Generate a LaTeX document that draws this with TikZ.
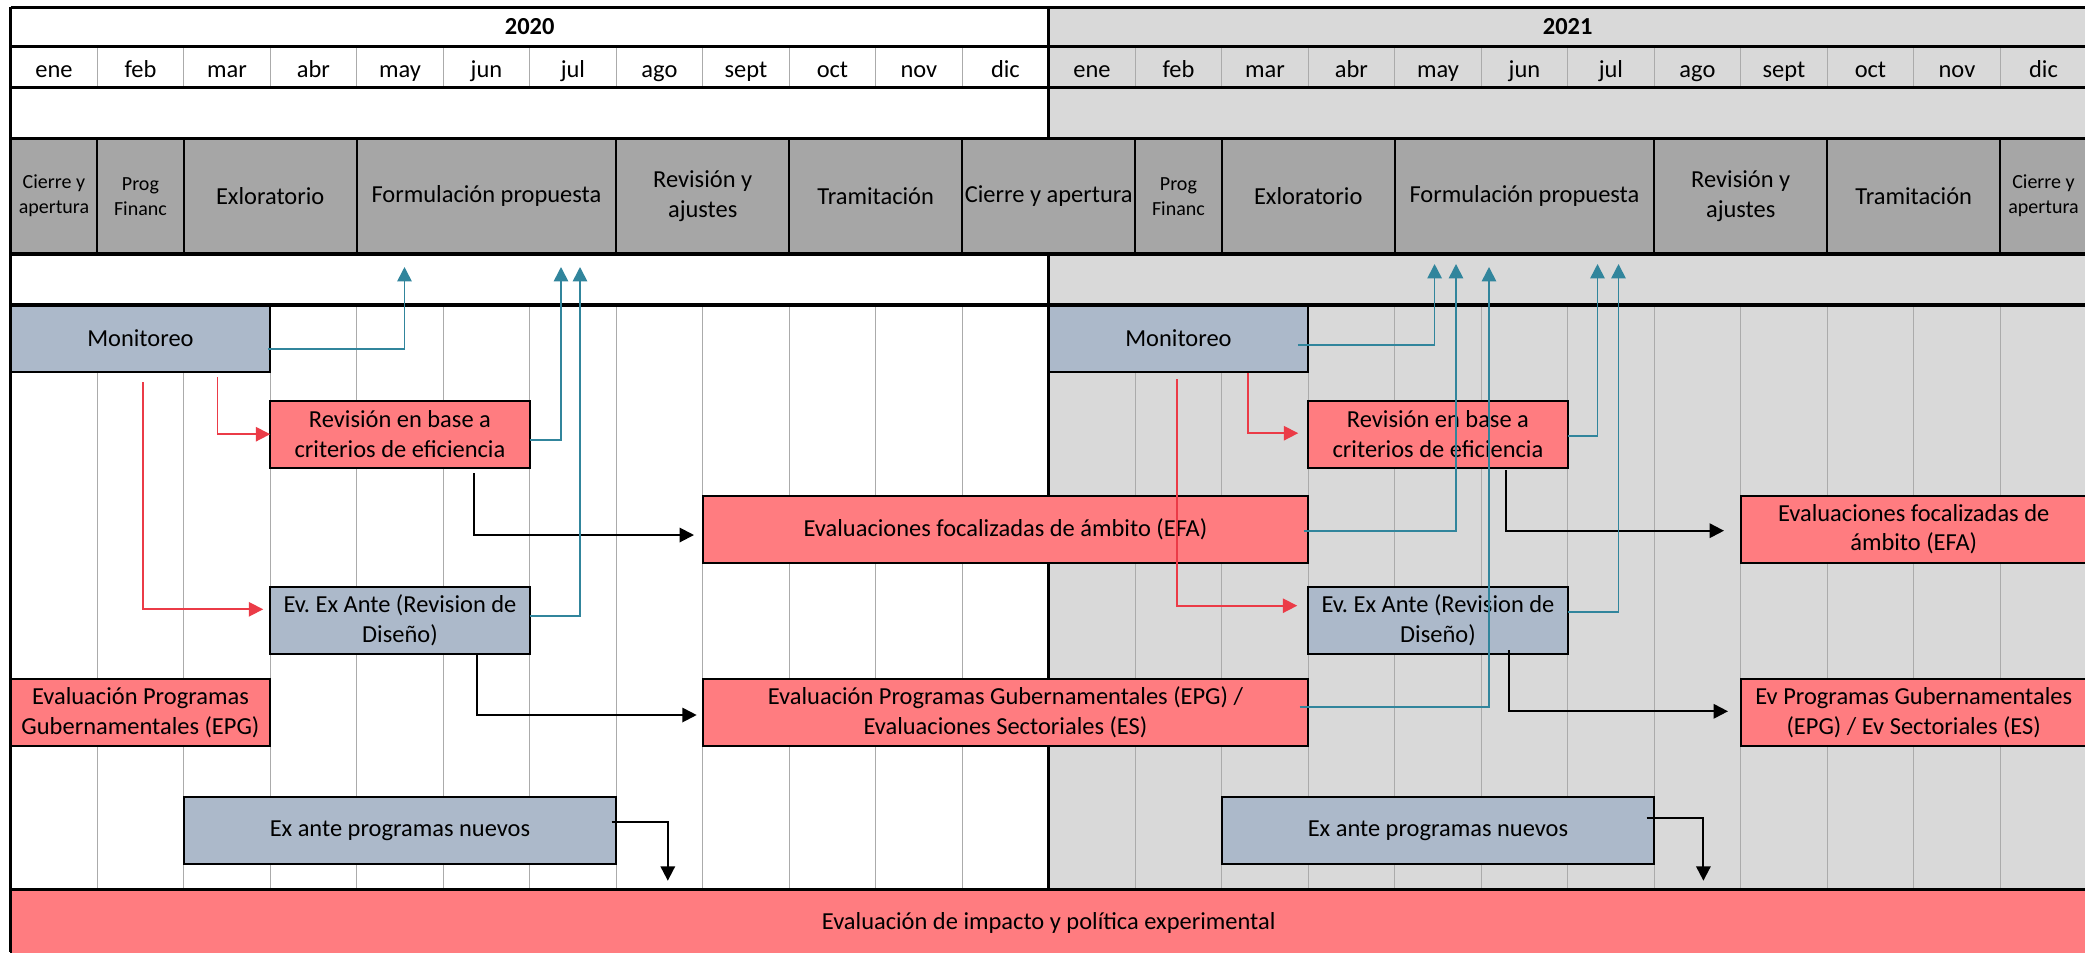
\documentclass[tikz,border=0pt]{standalone}
\usepackage{fontspec}
\setmainfont{Carlito}
\usetikzlibrary{arrows.meta, positioning}
\frenchspacing

\definecolor{evred}{HTML}{FF7C80}
\definecolor{evblue}{HTML}{ACB9CA}
\definecolor{phasegray}{HTML}{A6A6A6}
\definecolor{yeargray}{HTML}{D9D9D9}
\definecolor{gridgray}{HTML}{ABABAB}
\definecolor{linkteal}{HTML}{31859C}
\definecolor{linkred}{HTML}{EB3B47}

% column width and left edge (in px units)
\newcommand{\cw}{86.5}
\newcommand{\lx}{10.7}

\begin{document}
\begin{tikzpicture}[x=0.45pt, y=-0.45pt,
        font=\fontsize{11}{13.4}\selectfont,
        box/.style={draw, rectangle, line width=0.8pt, inner sep=0pt, outer sep=0pt, anchor=north west, align=center, minimum height=30.15pt},
        cols/.style={minimum width={#1*\cw*0.45pt}},
        redbox/.style={box, fill=evred},
        bluebox/.style={box, fill=evblue},
        phase/.style={box, fill=phasegray, minimum height=52.07pt},
        small/.style={font=\fontsize{9}{11.25}\selectfont},
        rule/.style={line width=1.4pt},
        gridline/.style={gridgray, line width=0.6pt},
        arrow/.style={-{Triangle[length=6.5pt, width=6.5pt]}, line width=0.75pt}
    ]
    \useasboundingbox (0,0) rectangle (2085,952);
    \clip (0,0) rectangle (2085,952);
    \fill[white] (0,0) rectangle (2085,952);
    \fill[yeargray] ({\lx+12*\cw},7.3) rectangle (2090,889.7);

    % header
    \node[font=\bfseries\fontsize{11}{13.4}\selectfont, anchor=base] (y2020) at ({\lx+6*\cw},34.5) {2020};
    \node[font=\bfseries\fontsize{11}{13.4}\selectfont, anchor=base] (y2021) at ({\lx+18*\cw},34.5) {2021};
    \foreach \m [count=\i from 0] in {ene,feb,mar,abr,may,jun,jul,ago,sept,oct,nov,dic,ene,feb,mar,abr,may,jun,jul,ago,sept,oct,nov,dic}
        \node[anchor=base] (m\i) at ({\lx+(\i+0.5)*\cw},77) {\m};

    % grid
    \foreach \i in {1,...,11,13,14,...,23} {
        \draw[gridline] ({\lx+\i*\cw},46.7) -- ({\lx+\i*\cw},87.7);
        \draw[gridline] ({\lx+\i*\cw},305) -- ({\lx+\i*\cw},889.7);
    }

    % phases
    \node[phase, cols=1, small] (ph1) at ({\lx+0*\cw},138.3) {Cierre y\\apertura};
    \node[phase, cols=1, small] (ph2) at ({\lx+1*\cw},138.3) {Prog\\Financ};
    \node[phase, cols=2] (ph3) at ({\lx+2*\cw},138.3) {Exloratorio};
    \node[phase, cols=3] (ph4) at ({\lx+4*\cw},138.3) {Formulación propuesta};
    \node[phase, cols=2] (ph5) at ({\lx+7*\cw},138.3) {Revisión y\\ajustes};
    \node[phase, cols=2] (ph6) at ({\lx+9*\cw},138.3) {Tramitación};
    \node[phase, cols=2] (ph7) at ({\lx+11*\cw},138.3) {Cierre y apertura};
    \node[phase, cols=1, small] (ph8) at ({\lx+13*\cw},138.3) {Prog\\Financ};
    \node[phase, cols=2] (ph9) at ({\lx+14*\cw},138.3) {Exloratorio};
    \node[phase, cols=3] (ph10) at ({\lx+16*\cw},138.3) {Formulación propuesta};
    \node[phase, cols=2] (ph11) at ({\lx+19*\cw},138.3) {Revisión y\\ajustes};
    \node[phase, cols=2] (ph12) at ({\lx+21*\cw},138.3) {Tramitación};
    \node[phase, cols=1, small] (ph13) at ({\lx+23*\cw},138.3) {Cierre y\\apertura};

    % 2020
    \node[bluebox, cols=3] (mon20) at ({\lx+0*\cw},305) {Monitoreo};
    \node[redbox, cols=3] (rev20) at ({\lx+3*\cw},400.7) {Revisión en base a\\criterios de eficiencia};
    \node[redbox, cols=7] (efa20) at ({\lx+8*\cw},495.7) {Evaluaciones focalizadas de ámbito (EFA)};
    \node[bluebox, cols=3] (exa20) at ({\lx+3*\cw},587) {Ev. Ex Ante (Revision de\\Diseño)};
    \node[redbox, cols=3] (epg20a) at ({\lx+0*\cw},679) {Evaluación Programas\\Gubernamentales (EPG)};
    \node[redbox, cols=7] (epg20) at ({\lx+8*\cw},679) {Evaluación Programas Gubernamentales (EPG) /\\Evaluaciones Sectoriales (ES)};
    \node[bluebox, cols=5] (new20) at ({\lx+2*\cw},797) {Ex ante programas nuevos};

    % 2021
    \node[bluebox, cols=3] (mon21) at ({\lx+12*\cw},305) {Monitoreo};
    \node[redbox, cols=3] (rev21) at ({\lx+15*\cw},400.7) {Revisión en base a\\criterios de eficiencia};
    \node[redbox, cols=4] (efa21) at ({\lx+20*\cw},495.7) {Evaluaciones focalizadas de\\ámbito (EFA)};
    \node[bluebox, cols=3] (exa21) at ({\lx+15*\cw},587) {Ev. Ex Ante (Revision de\\Diseño)};
    \node[redbox, cols=4] (epg21) at ({\lx+20*\cw},679) {Ev Programas Gubernamentales\\(EPG) / Ev Sectoriales (ES)};
    \node[bluebox, cols=5] (new21) at ({\lx+14*\cw},797) {Ex ante programas nuevos};

    \node[redbox, cols=24] (impact) at ({\lx},889.7) {Evaluación de impacto y política experimental};

    % thick rules
    \foreach \y in {7.3,46.7,87.7,138.3,254,305,889.7}
        \draw[rule] (\lx,\y) -- (2090,\y);
    \draw[rule] (\lx,7.3) -- (\lx,952);
    \draw[rule] ({\lx+12*\cw},7.3) -- ({\lx+12*\cw},138.3)
        ({\lx+12*\cw},254) -- ({\lx+12*\cw},495.7)
        ({\lx+12*\cw},562.7) -- ({\lx+12*\cw},679)
        ({\lx+12*\cw},746) -- ({\lx+12*\cw},889.7);

    % free ends
    \coordinate (up1) at (404.5,267);
    \coordinate (up2) at (561,267);
    \coordinate (up3) at (580,267);
    \coordinate (up4) at (1434.6,264);
    \coordinate (up5) at (1456,264);
    \coordinate (up6) at (1489,267);
    \coordinate (up7) at (1597.5,264);
    \coordinate (up8) at (1618.5,264);
    \coordinate (down1) at (667.8,880.7);
    \coordinate (down2) at (1703.4,880.7);

    % red links
    \draw[arrow, linkred] ([shift={(-52.6,5.3)}]mon20.south east) |- (rev20.west);
    \draw[arrow, linkred] ([shift={(2.5,10.3)}]mon20.south) |- ([shift={(-7,-11.2)}]exa20.west);
    \draw[arrow, linkred] ([shift={(-60.2,1.3)}]mon21.south east) |- ([shift={(-10,-1)}]rev21.west);
    \draw[arrow, linkred] ([shift={(-1.7,7)}]mon21.south) |- ([shift={(-11,-14.8)}]exa21.west);

    % black links
    \draw[arrow, line width=0.9pt] ([shift={(74.4,5.6)}]rev20.south) |- ([shift={(-8.7,5.8)}]efa20.west);
    \draw[arrow, line width=0.9pt] ([shift={(77.4,1)}]exa20.south) |- ([shift={(-6,2.5)}]epg20.west);
    \draw[arrow, line width=0.9pt] ([shift={(67.6,2.3)}]rev21.south) |- ([shift={(-16.7,1.5)}]efa21.west);
    \draw[arrow, line width=0.9pt] ([shift={(70.6,-4)}]exa21.south) |- ([shift={(-12.7,-1.2)}]epg21.west);
    \draw[arrow, line width=0.9pt] ([shift={(-4.7,-8.8)}]new20.east) -| (down1);
    \draw[arrow, line width=0.9pt] ([shift={(-7.7,-12.2)}]new21.east) -| (down2);

    % teal links
    \draw[arrow, linkteal] ([shift={(-2,10.2)}]mon20.east) -| (up1);
    \draw[arrow, linkteal] ([shift={(0,5.8)}]rev20.east) -| (up2);
    \draw[arrow, linkteal] ([shift={(0,-4.5)}]exa20.east) -| (up3);
    \draw[arrow, linkteal] ([shift={(-10.4,6.5)}]mon21.east) -| (up4);
    \draw[arrow, linkteal] ([shift={(-4.6,1.5)}]efa20.east) -| (up5);
    \draw[arrow, linkteal] ([shift={(-8.6,-5.8)}]epg20.east) -| (up6);
    \draw[arrow, linkteal] ([shift={(0,1.8)}]rev21.east) -| (up7);
    \draw[arrow, linkteal] ([shift={(0,-8.2)}]exa21.east) -| (up8);
\end{tikzpicture}
\end{document}
